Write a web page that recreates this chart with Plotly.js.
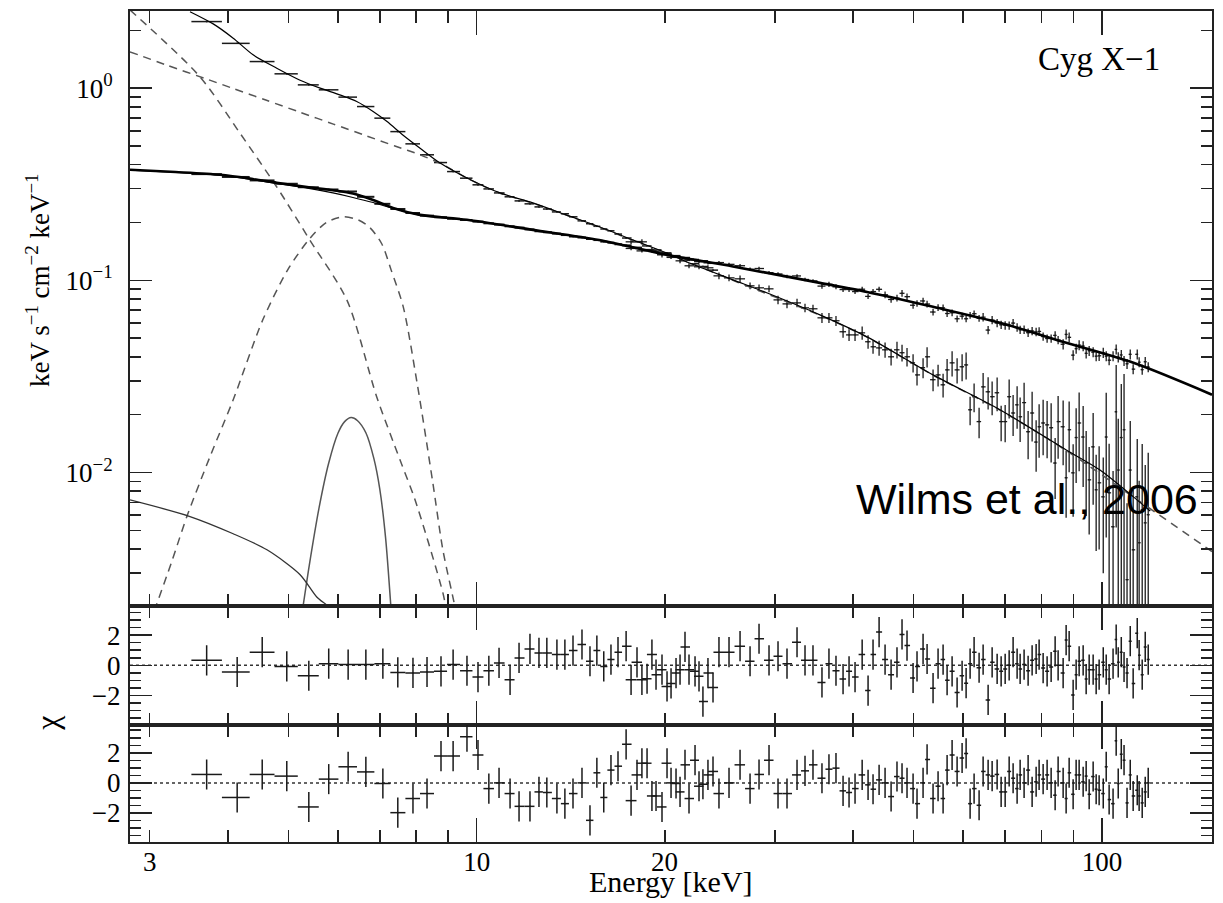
<!DOCTYPE html>
<html>
<head>
<meta charset="utf-8">
<script src="https://cdn.plot.ly/plotly-3.0.1.min.js"></script>
<style>html,body{margin:0;padding:0;background:#fff;}</style>
</head>
<body>
<div id="chart" style="width:1223px;height:903px;"></div>
<script>
// ---------------- DATA ----------------
// PCA channel energies (keV)
const pcaEnergy = [3.70, 4.14, 4.54, 4.97, 5.39, 5.80, 6.23, 6.65, 7.08, 7.48, 7.91, 8.33, 8.77, 9.17, 9.65, 10.05, 10.46, 10.86, 11.31, 11.69, 12.17, 12.58, 12.95, 13.44, 13.84, 14.26, 14.74, 15.18, 15.57, 15.97, 16.40, 16.83, 17.34, 18.05, 18.73, 19.36, 20.16, 20.84, 21.54, 22.35, 23.01, 23.88];
// HEXTE channel energies (keV)
const hexteEnergy = [17.66, 18.38, 19.07, 19.79, 20.46, 21.15, 21.86, 22.68, 23.44, 24.41,
  25.33, 26.38, 27.37, 28.29, 29.35, 30.34, 31.36, 32.54, 33.51, 34.51,
  35.67, 36.60, 37.56, 38.55, 39.41, 40.29, 41.36, 42.27, 43.05, 44.02,
  45.00, 46.01, 47.02, 47.90, 48.79, 49.89, 50.62, 51.76, 52.53, 53.70,
  54.70, 55.72, 56.55, 57.60, 58.67, 59.76, 60.65, 61.55, 62.46, 63.62,
  64.57, 65.77, 66.75, 67.99, 69.00, 70.03, 71.07, 72.11, 73.18, 74.00,
  75.09, 76.21, 77.34, 78.49, 79.36, 80.54, 81.73, 82.95, 84.18, 85.11,
  86.70, 87.66, 88.64, 89.95, 90.95, 91.96, 93.33, 94.37, 95.42, 96.83,
  97.91, 98.99, 100.5, 101.6, 102.7, 104.2, 105.4, 106.2, 107.4, 108.5,
  109.7, 111.0, 112.2, 113.9, 114.7, 116.0, 117.3, 118.6];

// Soft state spectrum (steep one)
const softFluxPca = [2.22, 1.71, 1.375, 1.187, 1.04, 0.98, 0.898, 0.802, 0.698, 0.594, 0.513, 0.45, 0.41, 0.368, 0.34, 0.314, 0.299, 0.285, 0.272, 0.259, 0.250, 0.241, 0.235, 0.227, 0.222, 0.214, 0.204, 0.197, 0.191, 0.185, 0.181, 0.174, 0.166, 0.159, 0.151, 0.144, 0.139, 0.133, 0.127, 0.122, 0.118, 0.113];
const softFluxHexte = [0.1586, 0.1586, 0.1441, 0.1357, 0.1341, 0.1263, 0.1190, 0.1176, 0.1162, 0.1055,
  0.1030, 0.1018, 0.0936, 0.0914, 0.0903, 0.0791, 0.0754, 0.0763, 0.0719, 0.0711,
  0.0638, 0.0638, 0.0616, 0.0540, 0.0520, 0.0520, 0.0533, 0.0479, 0.0451, 0.0445,
  0.0435, 0.0400, 0.0435, 0.0420, 0.0400, 0.0372, 0.0322, 0.0351, 0.0400, 0.0304,
  0.0322, 0.0286, 0.0342, 0.0372, 0.0342, 0.0355, 0.0363, 0.0212, 0.0248, 0.0184,
  0.0279, 0.0263, 0.0248, 0.0260, 0.0184, 0.0184, 0.0248, 0.0204, 0.0225, 0.0195,
  0.0231, 0.0163, 0.0204, 0.0144, 0.0173, 0.0181, 0.0177, 0.0171, 0.0112, 0.0184,
  0.0173, 0.00939, 0.0167, 0.00996, 0.0152, 0.0181, 0.0153, 0.0112, 0.00916, 0.0136,
  0.00813, 0.00884, 0.00747, 0.0153, 0.00784, 0.00522, 0.0207, 0.0103, 0.0152, 0.0167,
  0.00277, 0.0103, 0.00396, 0.00747, 0.00431, 0.00640, 0.00547, 0.00603];
const softErrHextePct = [3, 3, 3, 3, 3, 3, 3, 3, 3, 4,
  4, 4, 4, 4, 4, 5, 5, 5, 5, 5,
  6, 6, 6, 7, 7, 7, 8, 8, 8, 9,
  9, 10, 10, 10, 11, 11, 12, 12, 12, 13,
  13, 14, 14, 15, 15, 16, 16, 17, 17, 18,
  18, 19, 20, 20, 21, 22, 23, 24, 25, 26,
  27, 28, 29, 30, 31, 32, 33, 34, 35, 36,
  37, 38, 40, 41, 42, 44, 45, 47, 48, 50,
  52, 55, 60, 70, 80, 95, 75, 85, 90, 95,
  150, 80, 105, 100, 110, 120, 100, 110];

// Hard state spectrum (flat one)
const hardFluxPca = [0.357, 0.345, 0.331, 0.318, 0.305, 0.297, 0.290, 0.272, 0.250, 0.235, 0.224, 0.217, 0.213, 0.209, 0.206, 0.202, 0.198, 0.195, 0.191, 0.188, 0.184, 0.180, 0.178, 0.175, 0.172, 0.169, 0.167, 0.164, 0.162, 0.159, 0.157, 0.154, 0.152, 0.148, 0.144, 0.141, 0.137, 0.134, 0.131, 0.128, 0.126, 0.123];
const hardFluxHexte = [0.1465, 0.1423, 0.1434, 0.1370, 0.1316, 0.1314, 0.1289, 0.1250, 0.1233, 0.1237,
  0.1211, 0.1191, 0.1142, 0.1152, 0.1096, 0.1079, 0.1047, 0.1054, 0.1010, 0.0993,
  0.0933, 0.0953, 0.0925, 0.0895, 0.0896, 0.0874, 0.0899, 0.0825, 0.0874, 0.0898,
  0.0841, 0.0795, 0.0808, 0.0856, 0.0822, 0.0742, 0.0758, 0.0781, 0.0753, 0.0684,
  0.0721, 0.0719, 0.0672, 0.0678, 0.0631, 0.0651, 0.0631, 0.0658, 0.0670, 0.0634,
  0.0643, 0.0551, 0.0621, 0.0599, 0.0587, 0.0583, 0.0582, 0.0599, 0.0569, 0.0553,
  0.0554, 0.0534, 0.0545, 0.0539, 0.0542, 0.0510, 0.0498, 0.0498, 0.0517, 0.0489,
  0.0465, 0.0523, 0.0505, 0.0408, 0.0441, 0.0460, 0.0455, 0.0417, 0.0430, 0.0423,
  0.0403, 0.0405, 0.0420, 0.0403, 0.0384, 0.0403, 0.0437, 0.0398, 0.0409, 0.0381,
  0.0368, 0.0412, 0.0345, 0.0412, 0.0375, 0.0343, 0.0377, 0.0354];
const hardErrHextePct = [2, 2, 2, 2, 2, 2, 2, 2, 2, 2,
  2, 2, 2, 2, 2, 2, 2, 2, 2, 2,
  3, 3, 3, 3, 3, 3, 3, 3, 3, 3,
  4, 4, 4, 4, 4, 4, 4, 4, 4, 4,
  4, 4, 4, 4, 4, 4, 4, 4, 4, 4,
  5, 5, 5, 5, 5, 5, 5, 5, 5, 5,
  5, 5, 5, 5, 5, 5, 5, 5, 5, 5,
  6, 6, 6, 6, 6, 6, 6, 6, 6, 6,
  6, 6, 6, 6, 6, 6, 6, 6, 6, 6,
  6, 6, 6, 6, 6, 6, 6, 6];

// Residuals (chi), upper panel = hard state, lower panel = soft state
const chiHardPca = [0.33, -0.44, 0.87, -0.07, -0.69, 0.11, 0.05, 0.05, 0.11, -0.47, -0.5, -0.44, -0.4, 0.05, -0.36, -0.78, -0.36, 0.16, -0.96, 0.49, 1.09, 0.82, 0.82, 0.71, 0.71, 0.98, 1.38, 0.27, 0.98, -0.07, 0.38, 0.87, 1.27, 0.2, -0.89, -0.62, -1.4, -0.51, 1.22, -0.4, -2.4, -1.47];
const chiHardHexte = [-0.96, -0.96, 0.71, -0.29, -1.2, -0.29, -0.29, -0.73, -0.51, 0.87,
  0.87, 1.27, 0.27, 1.76, 0.33, 0.6, 0.11, 1.53, 0.33, 0.33,
  -1.13, 0.11, -0.36, -0.91, -0.4, -0.78, 0.71, -1.67, 0.71, 2.2,
  0.38, -0.62, 0.2, 2.05, 1.31, -0.84, -0.07, 1.09, 0.42, -1.51,
  0.11, 0.38, -0.98, -0.4, -1.8, -0.69, -1.18, 0.11, 0.87, -0.16,
  0.38, -2.29, 0.2, -0.24, -0.4, -0.24, 0, 0.87, 0.11, -0.24,
  0.05, -0.36, 0.33, 0.42, 0.71, -0.18, -0.4, -0.11, 0.93, 0,
  -0.51, 1.67, 1.27, -1.96, -0.62, 0.27, 0.33, -0.91, -0.29, -0.29,
  -0.91, -0.62, 0.2, -0.29, -0.91, 0.11, 1.71, 0.2, 0.87, -0.11,
  -0.51, 1.6, -1.2, 2.13, 0.67, -0.62, 1.22, 0.38];
const chiSoftPca = [0.56, -0.97, 0.56, 0.45, -1.6, 0.25, 1.07, 0.73, -0.04, -1.98, -1.04, -0.71, 1.78, 1.78, 3.07, 1.85, -0.38, 0, -0.71, -1.56, -1.56, -0.6, -0.64, -1.04, -1.38, -0.71, 0, -2.49, 0.67, -0.97, 0.85, 1.11, 2.56, 0.53, 1.31, -0.87, 1.31, -0.04, 1.2, 1.51, -0.09, 0.76];
const chiSoftHexte = [-1.18, 1.31, -0.87, -1.6, 0, -0.6, -1.04, -0.22, 0.53, -0.71,
  0, 1.2, -0.38, 0.56, 1.51, -0.71, -0.71, 0.53, 0.8, 1.2,
  0.31, 0.91, 0.98, -0.53, -0.64, -0.38, 0.53, -0.13, -0.42, 0.2,
  0, -0.91, 0.42, 0.31, 0, -0.38, -1.38, 0, 1.56, -1.04,
  -0.22, -1.04, 0.85, 1.85, 0.76, 1.65, 1.96, -1.38, -0.38, -1.49,
  0.76, 0.53, 0.45, 0.56, -0.6, -0.6, 0.76, 0.31, -0.38, 0.53,
  0, 0.85, -0.6, 0.07, 0.53, 0.25, 0.53, 0, -0.82, 0.76,
  0, -1.04, 0.67, -0.76, 0.53, 0.53, 0.07, 0.45, -0.76, 0.42,
  -0.42, -0.49, -0.71, 1.07, -1.11, -1.38, 2.8, -0.04, 1.91, 1.51,
  -1.33, 0.53, -0.87, -0.49, -0.87, -1.33, -0.6, 0];

// Model curves
const softModelE = [3.48, 3.79, 4.08, 4.39, 4.79, 5.22, 5.62, 6.04, 6.43, 6.83, 7.19, 7.62, 8.12, 8.73, 9.65, 10.9, 12.3, 13.9, 15.7, 17.8, 20.1, 21.9, 25.7, 29.1, 35.4, 42.1, 53.7, 68.7, 87.7, 99.3, 112.3, 119.5];
const softModelF = [2.50, 2.16, 1.82, 1.49, 1.27, 1.10, 1.00, 0.923, 0.852, 0.756, 0.670, 0.571, 0.487, 0.409, 0.341, 0.285, 0.253, 0.219, 0.190, 0.162, 0.139, 0.123, 0.1006, 0.0861, 0.0661, 0.0508, 0.0322, 0.0212, 0.0131, 0.0103, 0.00747, 0.0063];
const softComptE = [2.79, 3.2, 3.7, 4.08, 4.6, 5.22, 5.9, 6.67, 7.4, 8.12, 8.9, 9.65, 10.9, 12.3, 15.7, 20.1, 25.7, 35.4, 42.1, 53.7, 68.7, 87.7, 112.3, 150];
const softComptF = [1.545, 1.315, 1.115, 0.996, 0.867, 0.749, 0.650, 0.564, 0.500, 0.450, 0.395, 0.340, 0.284, 0.252, 0.189, 0.138, 0.100, 0.0658, 0.0506, 0.0321, 0.0211, 0.0130, 0.00745, 0.00388];
const softDiskE = [2.79, 3.61, 4.18, 4.79, 5.41, 6.20, 6.92, 7.54, 7.97, 8.83, 8.95];
const softDiskF = [2.55, 1.145, 0.585, 0.306, 0.162, 0.0791, 0.0248, 0.01164, 0.00721, 0.00237, 0.0019];
const softHumpE = [3.05, 3.25, 3.44, 3.75, 4.08, 4.55, 5.0, 5.41, 5.75, 6.11, 6.45, 6.75, 7.05, 7.3, 7.63, 8.03, 8.51, 8.83, 9.23, 9.35];
const softHumpF = [0.0019, 0.0034, 0.0059, 0.0122, 0.0239, 0.0623, 0.115, 0.165, 0.200, 0.214, 0.207, 0.188, 0.155, 0.113, 0.073, 0.0293, 0.00884, 0.00396, 0.00201, 0.0016];

const hardModelE = [2.79, 3.3, 3.89, 4.4, 4.79, 5.39, 5.89, 6.34, 6.83, 7.35, 8.12, 9.65, 12.3, 15.7, 20.1, 25.7, 35.4, 42.1, 53.7, 68.7, 87.7, 112.3, 150];
const hardModelF = [0.376, 0.366, 0.354, 0.336, 0.322, 0.305, 0.294, 0.283, 0.262, 0.238, 0.219, 0.2065, 0.183, 0.162, 0.136, 0.118, 0.097, 0.087, 0.0728, 0.0601, 0.0473, 0.0372, 0.0254];
const hardContE = [2.79, 3.89, 4.79, 5.39, 5.89, 6.34, 6.83, 7.35, 8.12, 9.65, 12.3, 15.7, 20.1];
const hardContF = [0.374, 0.352, 0.319, 0.301, 0.285, 0.270, 0.254, 0.237, 0.218, 0.206, 0.183, 0.162, 0.136];
const hardLineE = [5.25, 5.4, 5.6, 5.8, 6.0, 6.15, 6.3, 6.45, 6.65, 6.85, 7.0, 7.15, 7.3];
const hardLineF = [0.0018, 0.0033, 0.0066, 0.0112, 0.0160, 0.0184, 0.0193, 0.0186, 0.0161, 0.0118, 0.0082, 0.0046, 0.0019];
const hardDiskE = [2.79, 3.48, 4.08, 4.62, 5.22, 5.55, 5.8, 5.95];
const hardDiskF = [0.0072, 0.0059, 0.0048, 0.00396, 0.00294, 0.00225, 0.00200, 0.00180];

// Tick labels
const xTickVals = [10, 100];
const xTickText = ['10', '100'];
const xExtraLabels = [3, 20];
const yMainTickVals = [0.01, 0.1, 1];
const yMainTickText = ['10<sup>\u22122</sup>', '10<sup>\u22121</sup>', '10<sup>0</sup>'];
const yResTickVals = [-2, 0, 2];
const yResTickText = ['\u22122', '0', '2'];

// ---------------- helpers ----------------
function binWidths(E) {
  const plus = [], minus = [];
  for (let i = 0; i < E.length; i++) {
    const lo = i > 0 ? Math.sqrt(E[i - 1] * E[i]) : E[i] * E[i] / Math.sqrt(E[i] * E[i + 1]);
    const hi = i < E.length - 1 ? Math.sqrt(E[i] * E[i + 1]) : E[i] * E[i] / Math.sqrt(E[i - 1] * E[i]);
    plus.push(hi - E[i]); minus.push(E[i] - lo);
  }
  return { plus, minus };
}
const pcaBins = binWidths(pcaEnergy);
const hexteBins = binWidths(hexteEnergy);
const pctToAbs = (F, P) => F.map((f, i) => f * P[i] / 100);

const INK = '#1a1a1a';
const GRAY = '#555';
function dataTrace(x, y, bins, errY, xa, ya, thick) {
  return {
    x, y, xaxis: xa, yaxis: ya, type: 'scatter', mode: 'markers', hoverinfo: 'skip', showlegend: false,
    marker: { size: 1.5, color: INK },
    error_x: { type: 'data', symmetric: false, array: bins.plus, arrayminus: bins.minus, width: 0, thickness: thick || 1.5, color: INK },
    error_y: errY
  };
}
function lineTrace(x, y, color, width, dash) {
  return { x, y, xaxis: 'x', yaxis: 'y', type: 'scatter', mode: 'lines', hoverinfo: 'skip', showlegend: false,
    line: { color, width, dash: dash || 'solid', shape: 'spline', smoothing: 0.8 } };
}

const traces = [
  // main panel data
  dataTrace(pcaEnergy, hardFluxPca, pcaBins, { type: 'percent', value: 0.8, width: 0, thickness: 1.5, color: INK }, 'x', 'y', 2),
  dataTrace(hexteEnergy, hardFluxHexte, hexteBins, { type: 'data', array: pctToAbs(hardFluxHexte, hardErrHextePct), width: 0, thickness: 1.3, color: INK }, 'x', 'y', 1.3),
  dataTrace(pcaEnergy, softFluxPca, pcaBins, { type: 'percent', value: 0.8, width: 0, thickness: 1.5, color: INK }, 'x', 'y', 1.5),
  dataTrace(hexteEnergy, softFluxHexte, hexteBins, { type: 'data', array: pctToAbs(softFluxHexte, softErrHextePct), width: 0, thickness: 1.3, color: INK }, 'x', 'y', 1.3),
  // components
  lineTrace(softComptE, softComptF, GRAY, 1.5, '8px,6px'),
  lineTrace(softDiskE, softDiskF, GRAY, 1.5, '8px,6px'),
  lineTrace(softHumpE, softHumpF, GRAY, 1.5, '8px,6px'),
  lineTrace(hardLineE, hardLineF, GRAY, 1.5),
  lineTrace(hardDiskE, hardDiskF, '#333', 1.3),
  // models
  lineTrace(hardContE, hardContF, '#000', 1.1),
  lineTrace(hardModelE, hardModelF, '#000', 2.6),
  lineTrace(softModelE, softModelF, '#000', 1.2),
  // residuals
  dataTrace(pcaEnergy, chiHardPca, pcaBins, { type: 'constant', value: 1, width: 0, thickness: 1.5, color: INK }, 'x2', 'y2'),
  dataTrace(hexteEnergy, chiHardHexte, hexteBins, { type: 'constant', value: 1, width: 0, thickness: 1.5, color: INK }, 'x2', 'y2'),
  dataTrace(pcaEnergy, chiSoftPca, pcaBins, { type: 'constant', value: 1, width: 0, thickness: 1.5, color: INK }, 'x3', 'y3'),
  dataTrace(hexteEnergy, chiSoftHexte, hexteBins, { type: 'constant', value: 1, width: 0, thickness: 1.5, color: INK }, 'x3', 'y3')
];

// ---------------- LAYOUT ----------------
const serif = 'Liberation Serif, Times New Roman, serif';
const tickFont = { family: serif, size: 27, color: '#000' };
const xr = [Math.log10(2.79), Math.log10(150)];
const dMain = [0.2840, 1], dRes1 = [0.1412, 0.2840], dRes2 = [0, 0.1412];

function xAxis(anchor, labels) {
  return {
    type: 'log', range: xr, anchor, domain: [0, 1], showgrid: false, zeroline: false,
    showline: true, linecolor: '#222', linewidth: 2, mirror: 'ticks',
    ticks: 'inside', ticklen: 24, tickwidth: 1.5, tickcolor: '#222',
    tickmode: 'array', tickvals: xTickVals, ticktext: xTickText,
    showticklabels: labels, tickfont: tickFont, ticklabelstandoff: -5,
    minor: { tickmode: 'array', tickvals: [3, 4, 5, 6, 7, 8, 9, 20, 30, 40, 50, 60, 70, 80, 90], ticks: 'inside', ticklen: 12, tickwidth: 1.5, tickcolor: '#222' }
  };
}
function resAxis(domain, range, anchor) {
  return {
    domain, range, anchor, showgrid: false, zeroline: false,
    showline: true, linecolor: '#222', linewidth: 2, mirror: 'ticks',
    ticks: 'inside', ticklen: 22, tickwidth: 1.5, tickcolor: '#222',
    tickmode: 'array', tickvals: yResTickVals, ticktext: yResTickText,
    tickfont: tickFont, ticklabelstandoff: 2,
    minor: { tickmode: 'array', tickvals: [-3.5, -3, -2.5, -1.5, -1, -0.5, 0.5, 1, 1.5, 2.5, 3, 3.5], ticks: 'inside', ticklen: 11, tickwidth: 1.5, tickcolor: '#222' }
  };
}

const yMinor = [];
[0.001, 0.01, 0.1].forEach(d => { for (let k = 2; k <= 9; k++) yMinor.push(+(k * d).toPrecision(3)); });
yMinor.push(2);

const annFont = (size, fam) => ({ family: fam || serif, size, color: '#000' });
const layout = {
  width: 1223, height: 903,
  margin: { l: 130, r: 11, t: 11, b: 61 },
  paper_bgcolor: '#fff', plot_bgcolor: '#fff',
  showlegend: false,
  xaxis: xAxis('y', false),
  xaxis2: xAxis('y2', false),
  xaxis3: xAxis('y3', true),
  yaxis: {
    type: 'log', range: [Math.log10(0.00202), Math.log10(2.52)], domain: dMain, anchor: 'x',
    showgrid: false, zeroline: false, showline: true, linecolor: '#222', linewidth: 2, mirror: 'ticks',
    ticks: 'inside', ticklen: 22, tickwidth: 1.5, tickcolor: '#222',
    tickmode: 'array', tickvals: yMainTickVals, ticktext: yMainTickText, tickfont: tickFont, ticklabelstandoff: 10,
    minor: { tickmode: 'array', tickvals: yMinor, ticks: 'inside', ticklen: 11, tickwidth: 1.5, tickcolor: '#222' }
  },
  yaxis2: resAxis(dRes1, [-3.93, 3.93], 'x2'),
  yaxis3: resAxis(dRes2, [-3.93, 3.87], 'x3'),
  shapes: [
    { type: 'line', xref: 'paper', x0: 0, x1: 1, yref: 'y2', y0: 0, y1: 0, line: { color: '#333', width: 1.5, dash: 'dot' }, layer: 'below' },
    { type: 'line', xref: 'paper', x0: 0, x1: 1, yref: 'y3', y0: 0, y1: 0, line: { color: '#333', width: 1.5, dash: 'dot' }, layer: 'below' }
  ],
  annotations: [
    ...xExtraLabels.map(v => ({ xref: 'x3', yref: 'paper', x: Math.log10(v), y: -0.024, yanchor: 'middle', xanchor: 'center', showarrow: false, text: String(v), font: tickFont })),
    { xref: 'paper', yref: 'paper', x: 0.5, y: -0.048, xanchor: 'center', yanchor: 'middle', showarrow: false, text: 'Energy [keV]', font: annFont(30) },
    { xref: 'paper', yref: 'paper', x: -0.085, y: 0.6763, xanchor: 'center', yanchor: 'middle', textangle: -90, showarrow: false, text: 'keV s<sup>\u22121</sup> cm<sup>\u22122</sup> keV<sup>\u22121</sup>', font: annFont(27) },
    { xref: 'paper', yref: 'paper', x: -0.077, y: 0.1432, xanchor: 'center', yanchor: 'middle', textangle: -90, showarrow: false, text: '\u03c7', font: annFont(32) },
    { xref: 'paper', yref: 'paper', x: 0.9538, y: 0.9422, xanchor: 'right', yanchor: 'middle', showarrow: false, text: 'Cyg X\u22121', font: annFont(33) },
    { xref: 'paper', yref: 'paper', x: 0.9889, y: 0.4128, xanchor: 'right', yanchor: 'middle', showarrow: false, text: 'Wilms et al., 2006', font: annFont(43, 'Liberation Sans, Arial, sans-serif') }
  ]
};

Plotly.newPlot('chart', traces, layout, { staticPlot: true, displayModeBar: false });
</script>
</body>
</html>
